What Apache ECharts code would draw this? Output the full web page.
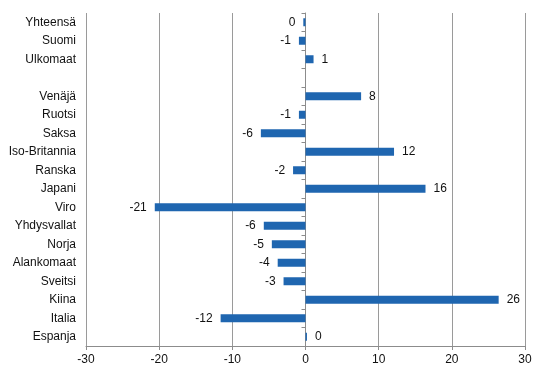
<!DOCTYPE html>
<html>
<head>
<meta charset="UTF-8">
<title>Muutos</title>
<script src="https://cdn.jsdelivr.net/npm/echarts@6/dist/echarts.min.js"></script>
<style>
  html, body { margin: 0; padding: 0; background: #fff; }
  #main { width: 546px; height: 376px; }
</style>
</head>
<body>
<div id="main"></div>
<script type="text/javascript">
// kategoriat ylhäältä alas, tyhjä rivi välissä
var categories = ['Yhteensä', 'Suomi', 'Ulkomaat', '', 'Venäjä', 'Ruotsi', 'Saksa', 'Iso-Britannia',
  'Ranska', 'Japani', 'Viro', 'Yhdysvallat', 'Norja', 'Alankomaat', 'Sveitsi', 'Kiina', 'Italia', 'Espanja'];
var values = [-0.3, -0.9, 1.1, null, 7.6, -0.9, -6.1, 12.1,
  -1.7, 16.4, -20.6, -5.7, -4.6, -3.8, -3.0, 26.4, -11.6, 0.2];
var xTicks = [-30, -20, -10, 0, 10, 20, 30];

var chart = echarts.init(document.getElementById('main'));

// negatiiviset arvot saavat tekstin vasemmalle
var seriesData = values.map(function (v) {
  if (v === null) return null;
  return {
    value: v,
    label: { position: v < 0 ? 'left' : 'right' }
  };
});

var option = {
  animation: false,
  grid: { left: 86, right: 21, top: 13, bottom: 30 },
  xAxis: {
    type: 'value',
    min: xTicks[0],
    max: xTicks[xTicks.length - 1],
    interval: 10,
    axisLine: { show: true, onZero: false, lineStyle: { color: '#8c8c8c' } },
    axisTick: { show: true, length: 4, lineStyle: { color: '#8c8c8c' } },
    axisLabel: { color: '#111', fontSize: 12, fontFamily: 'Liberation Sans', margin: 8 },
    splitLine: { show: true, lineStyle: { color: '#9a9a9a', width: 1 } }
  },
  yAxis: [{
    type: 'category',
    inverse: true,
    data: categories,
    axisLine: { show: false, onZero: false },
    axisTick: { show: false },
    axisLabel: { color: '#111', fontSize: 12, fontFamily: 'Liberation Sans', margin: 10 }
  }, {
    type: 'category',
    inverse: true,
    position: 'left',
    data: categories,
    axisLine: { show: true, onZero: true, lineStyle: { color: '#8c8c8c' } },
    axisTick: { show: true, length: 4, lineStyle: { color: '#8c8c8c' } },
    axisLabel: { show: false }
  }],
  series: [{
    type: 'bar',
    yAxisIndex: 0,
    barWidth: 8,
    data: seriesData,
    itemStyle: { color: '#1f66b0' },
    label: {
      show: true,
      distance: 8,
      color: '#111',
      fontSize: 12,
      fontFamily: 'Liberation Sans',
      formatter: function (p) {
        return String(Math.round(p.value));
      }
    }
  }]
};

chart.setOption(option, true);
</script>
</body>
</html>
